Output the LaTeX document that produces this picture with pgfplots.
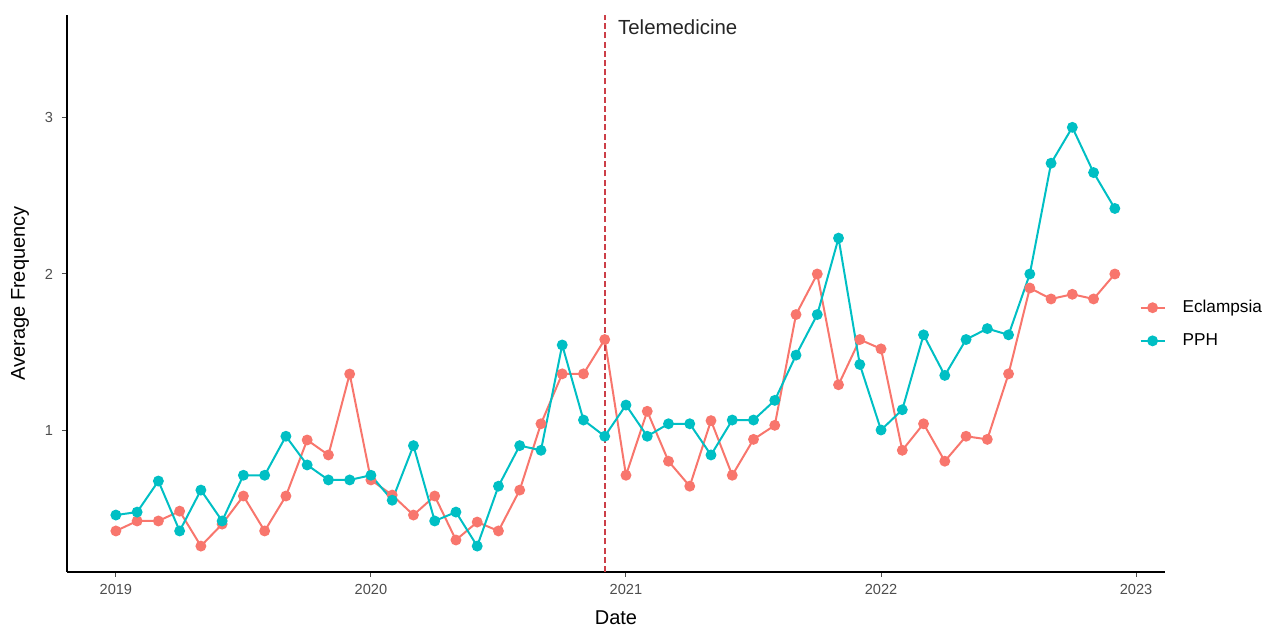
\documentclass[border=0pt]{standalone}
\usepackage{pgfplots}
\pgfplotsset{compat=1.18}
\usepackage{fontspec}
\setmainfont{Liberation Sans}
\definecolor{ecl}{HTML}{F8766D}
\definecolor{pph}{HTML}{00BFC4}
\definecolor{tickgray}{HTML}{4D4D4D}
\definecolor{vline}{HTML}{CC3F48}
\pgfplotstableread{
m ecl pph
0 0.353 0.455
1 0.417 0.474
2 0.417 0.673
3 0.480 0.353
4 0.256 0.615
5 0.397 0.417
6 0.577 0.710
7 0.353 0.710
8 0.577 0.960
9 0.936 0.776
10 0.840 0.680
11 1.359 0.680
12 0.680 0.710
13 0.583 0.550
14 0.455 0.900
15 0.577 0.417
16 0.295 0.474
17 0.410 0.256
18 0.353 0.640
19 0.615 0.900
20 1.040 0.870
21 1.360 1.545
22 1.360 1.064
23 1.580 0.960
24 0.710 1.160
25 1.120 0.960
26 0.800 1.040
27 0.640 1.040
28 1.060 0.840
29 0.710 1.064
30 0.940 1.064
31 1.030 1.190
32 1.740 1.480
33 2.000 1.740
34 1.290 2.230
35 1.580 1.420
36 1.520 1.000
37 0.870 1.130
38 1.040 1.610
39 0.800 1.350
40 0.960 1.580
41 0.940 1.650
42 1.360 1.610
43 1.910 2.000
44 1.840 2.710
45 1.870 2.940
46 1.840 2.650
47 2.000 2.420
}\datatable
\begin{document}
\begin{tikzpicture}
\path[use as bounding box] (-33.5pt,-27pt) rectangle (599.5pt,286pt);
\begin{axis}[
  scale only axis,
  width=549pt, height=278.5pt,
  xmin=-2.3, xmax=49.36,
  ymin=0.09, ymax=3.66,
  axis lines*=left,
  axis line style={black, line width=0.6pt},
  xtick={0,12,24,36,48},
  xticklabels={2019,2020,2021,2022,2023},
  ytick={1,2,3},
  tick align=outside,
  major tick length=2.5pt,
  tick style={tickgray, line width=0.5pt},
  ticklabel style={font=\fontsize{7.3}{8}\selectfont, text=tickgray},
  yticklabel style={xshift=-1pt},
  /pgf/number format/assume math mode=true,
  xlabel={Date},
  ylabel={Average Frequency},
  label style={font=\fontsize{9.8}{11}\selectfont},
  every axis x label/.style={at={(rel axis cs:0.5,0)}, anchor=center, yshift=-23pt},
  every axis y label/.style={at={(rel axis cs:0,0.5)}, xshift=-23.5pt, rotate=90, anchor=center},
  legend style={at={(0.9765,0.445)}, anchor=west, draw=none, fill=none,
    font=\fontsize{8.6}{10}\selectfont, row sep=5pt, inner sep=0pt},
  legend image code/.code={\draw[mark repeat=2,mark phase=2] plot coordinates {(0pt,0pt)(6pt,0pt)(12pt,0pt)};},
  legend cell align=left,
  clip=false,
]
\addplot[ecl, line width=1pt, mark=*, mark size=2.2pt, mark options={solid, fill=ecl}] table[x=m, y=ecl] {\datatable};
\addlegendentry{\hspace*{6.5pt}Eclampsia}
\addplot[pph, line width=1pt, mark=*, mark size=2.2pt, mark options={solid, fill=pph}] table[x=m, y=pph] {\datatable};
\addlegendentry{\hspace*{6.5pt}PPH}
\draw[vline, dash pattern=on 3pt off 1.6pt, line width=0.8pt] (axis cs:23,0.09) -- (axis cs:23,3.66);
\node[anchor=west, text=black!85, font=\fontsize{10.2}{11}\selectfont] at (axis cs:23.3,3.58) {Telemedicine};
\end{axis}
\end{tikzpicture}
\end{document}
